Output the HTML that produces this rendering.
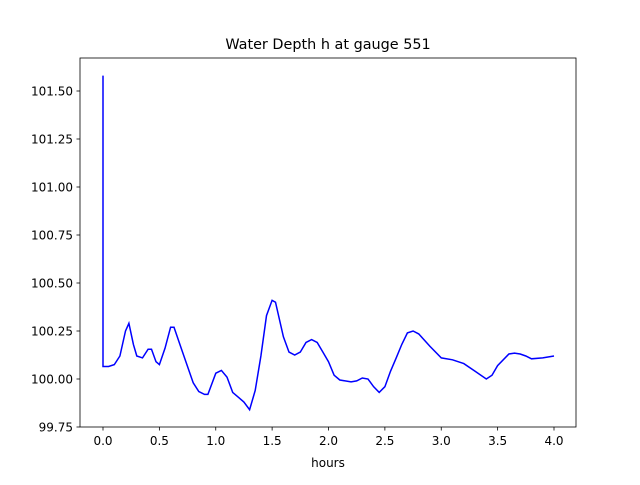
<!DOCTYPE html>
<html><head><meta charset="utf-8"><style>
body{margin:0;background:#fff}
svg text{font-family:"DejaVu Sans","Liberation Sans",sans-serif;fill:#000}
</style></head><body>
<svg id="chart" width="640" height="480" xmlns="http://www.w3.org/2000/svg">
<rect width="640" height="480" fill="#fff"/>
<text x="328" y="49" font-size="14.4" text-anchor="middle">Water Depth h at gauge 551</text>
<g id="ticks"></g>
<path id="line" fill="none" stroke="#0000ff" stroke-width="1.5"/>
<rect x="80" y="58" width="496" height="369" fill="none" stroke="#000" stroke-width="0.8"/>
<text x="328" y="467" font-size="12" text-anchor="middle">hours</text>
</svg>
<script>
const hours=[0,0,0.05,0.1,0.15,0.2,0.23,0.27,0.3,0.35,0.4,0.43,0.47,0.5,0.55,0.6,0.63,0.7,0.8,0.85,0.9,0.93,1.0,1.05,1.1,1.15,1.2,1.25,1.3,1.35,1.4,1.45,1.5,1.53,1.6,1.65,1.7,1.75,1.8,1.85,1.9,1.95,2.0,2.05,2.1,2.2,2.25,2.3,2.35,2.4,2.45,2.5,2.55,2.6,2.65,2.7,2.75,2.8,2.9,3.0,3.1,3.2,3.3,3.4,3.45,3.5,3.6,3.65,3.7,3.75,3.8,3.9,4.0];
const depth=[101.58,100.065,100.065,100.075,100.12,100.25,100.29,100.18,100.12,100.11,100.155,100.155,100.09,100.075,100.16,100.27,100.27,100.15,99.98,99.935,99.92,99.92,100.03,100.045,100.01,99.93,99.905,99.88,99.84,99.94,100.12,100.33,100.41,100.40,100.22,100.14,100.125,100.14,100.19,100.205,100.19,100.14,100.09,100.02,99.995,99.985,99.99,100.005,100.0,99.96,99.93,99.96,100.04,100.11,100.18,100.24,100.25,100.235,100.17,100.11,100.1,100.08,100.04,100.0,100.02,100.07,100.13,100.135,100.13,100.12,100.105,100.11,100.12];
const xTicks=[0,0.5,1,1.5,2,2.5,3,3.5,4];
const yTicks=[99.75,100,100.25,100.5,100.75,101,101.25,101.5];
const xs=v=>103+v*112.75;
const ys=v=>379-(v-100)*192;
const NS="http://www.w3.org/2000/svg";
const g=document.getElementById('ticks');
xTicks.forEach(t=>{
  const l=document.createElementNS(NS,'line');
  
  
  l.setAttribute('x1',xs(t));l.setAttribute('x2',xs(t));l.setAttribute('y1',427);l.setAttribute('y2',430.5);l.setAttribute('stroke','#000');l.setAttribute('stroke-width','0.8');g.appendChild(l);
  const s=document.createElementNS(NS,'text');
  
  
  s.setAttribute('x',xs(t));s.setAttribute('y',445);s.setAttribute('font-size','12');s.setAttribute('text-anchor','middle');s.textContent=t.toFixed(1);g.appendChild(s);
});
yTicks.forEach(t=>{
  const l=document.createElementNS(NS,'line');
  
  
  l.setAttribute('x1',76.5);l.setAttribute('x2',80);l.setAttribute('y1',ys(t));l.setAttribute('y2',ys(t));l.setAttribute('stroke','#000');l.setAttribute('stroke-width','0.8');g.appendChild(l);
  const s=document.createElementNS(NS,'text');
  
  
  s.setAttribute('x',73);s.setAttribute('y',ys(t)+4.5);s.setAttribute('font-size','12');s.setAttribute('text-anchor','end');s.textContent=t.toFixed(2);g.appendChild(s);
});
document.getElementById('line').setAttribute('d',hours.map((h,i)=>(i?'L':'M')+xs(h).toFixed(1)+','+ys(depth[i]).toFixed(1)).join(''));
</script>
</body></html>
